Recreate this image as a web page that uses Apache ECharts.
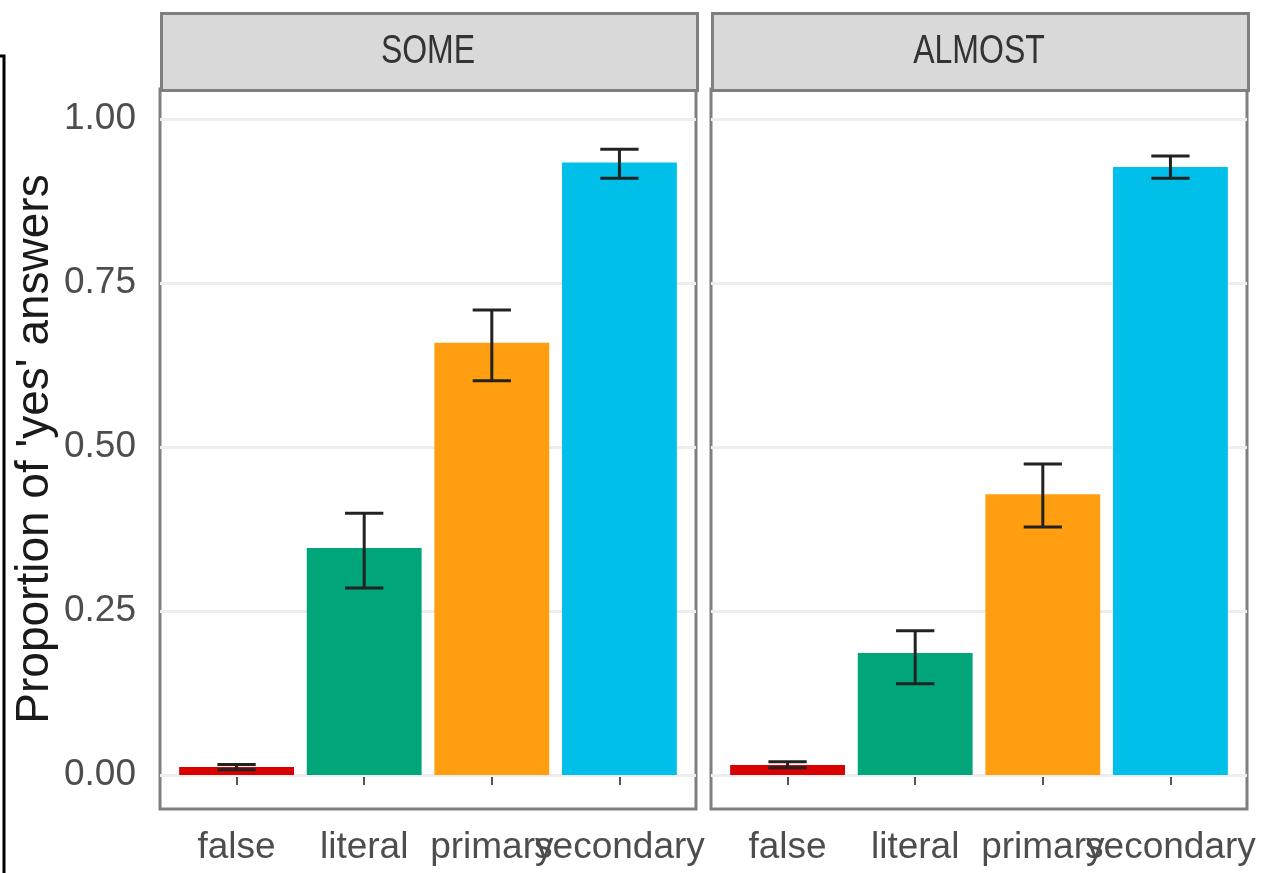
<!DOCTYPE html>
<html>
<head>
<meta charset="utf-8">
<script src="https://cdn.jsdelivr.net/npm/echarts@6/dist/echarts.min.js"></script>
<style>
  html, body { margin: 0; padding: 0; background: #fff; }
  #main { width: 1271px; height: 873px; }
</style>
</head>
<body>
<div id="main"></div>
<script>
  var categories = ['false', 'literal', 'primary', 'secondary'];
  var panels = ['SOME', 'ALMOST'];
  var barColors = ['#d90000', '#00a57a', '#ff9e10', '#00bfe8'];

  // proportion of 'yes' answers, with error bar ends
  var someMean = [0.012, 0.346, 0.659, 0.934];
  var someLow = [0.008, 0.285, 0.601, 0.910];
  var someHigh = [0.016, 0.399, 0.709, 0.954];
  var almostMean = [0.015, 0.186, 0.428, 0.927];
  var almostLow = [0.011, 0.139, 0.378, 0.910];
  var almostHigh = [0.020, 0.220, 0.474, 0.944];

  var yTicks = [0, 0.25, 0.5, 0.75, 1];
  var yTickLabels = ['0.00', '0.25', '0.50', '0.75', '1.00'];

  var chart = echarts.init(document.getElementById('main'));

  var sans = '"Liberation Sans", Arial, sans-serif';
  var panelLeft = [160, 711];
  var panelTop = 89, panelW = 536, panelH = 720;

  function barItem(params, api) {
    var i = api.value(0);
    var p0 = api.coord([i - 0.45, api.value(1)]);
    var p1 = api.coord([i + 0.45, 0]);
    return {
      type: 'rect',
      shape: { x: p0[0], y: p0[1], width: p1[0] - p0[0], height: p1[1] - p0[1] },
      style: { fill: barColors[i] }
    };
  }

  function errItem(params, api) {
    var i = api.value(0);
    var top = api.coord([i, api.value(2)]);
    var bot = api.coord([i, api.value(1)]);
    var l = api.coord([i - 0.15, 0])[0];
    var r = api.coord([i + 0.15, 0])[0];
    var st = { stroke: '#222', lineWidth: 3 };
    return {
      type: 'group',
      children: [
        { type: 'line', shape: { x1: top[0], y1: top[1], x2: bot[0], y2: bot[1] }, style: st },
        { type: 'line', shape: { x1: l, y1: top[1], x2: r, y2: top[1] }, style: st },
        { type: 'line', shape: { x1: l, y1: bot[1], x2: r, y2: bot[1] }, style: st }
      ]
    };
  }

  // category labels split over two stacked axes so the overlapping
  // "primary"/"secondary" pair is not auto-hidden
  function catAxis(k, labelIdx, withTicks) {
    return {
      type: 'value', gridIndex: k, min: -0.6, max: 3.6, position: 'bottom', offset: 0,
      axisLine: { show: false },
      splitLine: { show: false },
      axisTick: { show: withTicks, customValues: [0, 1, 2, 3], length: 10, lineStyle: { color: '#555', width: 2 } },
      axisLabel: {
        customValues: labelIdx, margin: 20, interval: 0, hideOverlap: false,
        showMinLabel: true, showMaxLabel: true,
        formatter: function (v) { return categories[Math.round(v)]; },
        fontFamily: sans, fontSize: 37, color: '#4d4d4d'
      }
    };
  }

  var grids = [], xAxes = [], yAxes = [], series = [], graphics = [];
  var means = [someMean, almostMean], lows = [someLow, almostLow], highs = [someHigh, almostHigh];

  panels.forEach(function (name, k) {
    grids.push({
      left: panelLeft[k], top: panelTop, width: panelW, height: panelH,
      show: true, borderColor: '#7f7f7f', borderWidth: 3, backgroundColor: 'transparent'
    });
    xAxes.push(catAxis(k, [0, 2], true));
    yAxes.push({
      type: 'value', gridIndex: k, min: -0.052, max: 1.046,
      axisLine: { show: false },
      splitLine: { show: false },
      axisTick: { show: k === 0, customValues: yTicks, length: 11, lineStyle: { color: '#555', width: 2 } },
      axisLabel: {
        show: k === 0, customValues: yTicks, margin: 24, hideOverlap: false,
        showMinLabel: true, showMaxLabel: true,
        formatter: function (v) { return yTickLabels[yTicks.indexOf(v)]; },
        fontFamily: sans, fontSize: 37, color: '#4d4d4d'
      },
      name: k === 0 ? "Proportion of 'yes' answers" : '',
      nameLocation: 'middle', nameRotate: 90, nameGap: 102,
      nameTextStyle: { fontFamily: sans, fontSize: 46, color: '#1a1a1a' }
    });
    series.push({
      type: 'custom', xAxisIndex: k, yAxisIndex: k, z: 2,
      renderItem: barItem,
      data: categories.map(function (c, i) { return [i, means[k][i]]; }),
      markLine: {
        z: 1, silent: true, symbol: 'none', label: { show: false },
        lineStyle: { color: '#ededed', width: 3, type: 'solid' },
        data: yTicks.map(function (v) { return { yAxis: v }; })
      }
    });
    series.push({
      type: 'custom', xAxisIndex: k, yAxisIndex: k, z: 3,
      renderItem: errItem,
      data: categories.map(function (c, i) { return [i, lows[k][i], highs[k][i]]; })
    });
    graphics.push({
      type: 'rect', left: panelLeft[k], top: 12,
      shape: { width: panelW, height: 77 },
      style: { fill: '#d9d9d9', stroke: '#7f7f7f', lineWidth: 3 }
    });
    graphics.push({
      type: 'text', x: panelLeft[k] + panelW / 2, y: 52, scaleX: 0.8,
      style: {
        text: name, fill: '#333', font: '40px ' + sans,
        textAlign: 'center', textVerticalAlign: 'middle'
      }
    });
  });
  // second label axis for each panel (indices 2 and 3)
  panels.forEach(function (name, k) {
    xAxes.push(catAxis(k, [1, 3], false));
  });

  // cropped frame edge on the far left
  graphics.push({
    type: 'polyline',
    shape: { points: [[0, 56], [4, 56], [4, 873]] },
    style: { stroke: '#000', lineWidth: 3, fill: null }
  });

  chart.setOption({
    backgroundColor: '#fff',
    animation: false,
    grid: grids,
    xAxis: xAxes,
    yAxis: yAxes,
    series: series,
    graphic: graphics
  });
</script>
</body>
</html>
